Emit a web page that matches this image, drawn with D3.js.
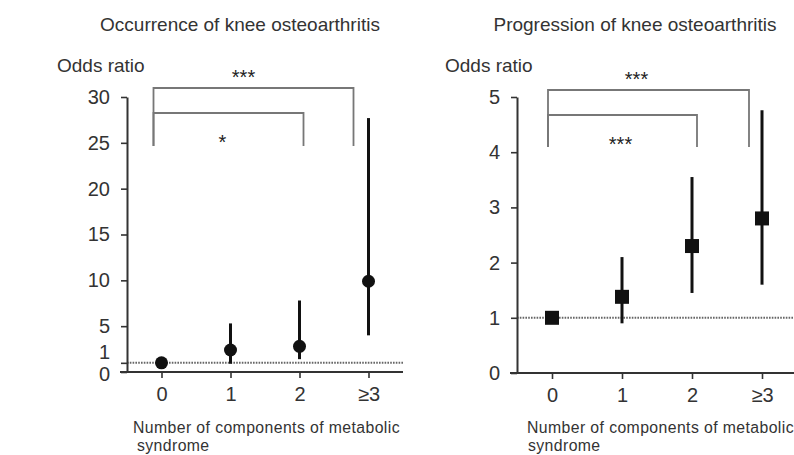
<!DOCTYPE html>
<html>
<head>
<meta charset="utf-8">
<script src="https://cdn.jsdelivr.net/npm/d3@7"></script>
<style>
  html, body { margin: 0; padding: 0; background: #fff; }
  svg { display: block; font-family: "Liberation Sans", Arial, sans-serif; }
</style>
</head>
<body>
<svg id="chart" width="794" height="455"></svg>
<script>
// ---- Data ----
const categories = ["0", "1", "2", "\u22653"];

const occurrenceOR    = [1.0, 2.4, 2.8, 9.9];
const occurrenceLower = [1.0, 0.9, 1.4, 4.0];
const occurrenceUpper = [1.0, 5.3, 7.8, 27.7];
const occurrenceTicks = [0, 1, 5, 10, 15, 20, 25, 30];

const progressionOR    = [1.0, 1.38, 2.3, 2.8];
const progressionLower = [1.0, 0.9, 1.45, 1.6];
const progressionUpper = [1.0, 2.1, 3.55, 4.76];
const progressionTicks = [0, 1, 2, 3, 4, 5];

const occurrenceBrackets  = [{from: 0, to: 3, label: "***"}, {from: 0, to: 2, label: "*"}];
const progressionBrackets = [{from: 0, to: 3, label: "***"}, {from: 0, to: 2, label: "***"}];

const titles = ["Occurrence of knee osteoarthritis", "Progression of knee osteoarthritis"];
const yLabel = "Odds ratio";
const xLabelLines = ["Number of components of metabolic", "syndrome"];

// ---- Drawing ----
const svg = d3.select("#chart");
const textColor = "#333";

function panel(cfg) {
  const g = svg.append("g");
  const x = d3.scalePoint().domain(categories).range([cfg.axisX, cfg.axisX + cfg.span]).padding(0.5);
  const y = d3.scaleLinear().domain([0, cfg.yMax]).range([cfg.y0, cfg.yTop]);

  // title
  g.append("text").attr("x", cfg.titleX).attr("y", 31)
    .attr("text-anchor", "middle").attr("font-size", 19).attr("fill", textColor)
    .text(cfg.title);
  // y label
  g.append("text").attr("x", cfg.yLabelX).attr("y", 72)
    .attr("font-size", 19).attr("fill", textColor).text(yLabel);

  // reference line at OR = 1
  g.append("line")
    .attr("x1", cfg.axisX).attr("x2", cfg.xAxisEnd)
    .attr("y1", y(1)).attr("y2", y(1))
    .attr("stroke", "#666").attr("stroke-width", 2).attr("stroke-dasharray", "1.6,1.2");

  // y axis
  const ya = g.append("g").attr("transform", `translate(${cfg.axisX},0)`)
    .call(d3.axisLeft(y).tickValues(cfg.ticks).tickSize(6).tickSizeOuter(0).tickPadding(11).tickFormat(d3.format("d")));
  ya.select(".domain").attr("stroke", "#333").attr("stroke-width", 2);
  ya.selectAll(".tick line").attr("stroke", "#333").attr("stroke-width", 1.6);
  ya.selectAll(".tick text").attr("font-size", 20).attr("fill", textColor)
    .attr("font-family", "Liberation Sans, Arial, sans-serif");
  if (cfg.oneShift) {
    ya.selectAll(".tick").filter(d => d === 1).select("text").attr("dy", "-0.22em");
    ya.selectAll(".tick").filter(d => d === 0).select("text").attr("dy", "0.42em");
  }

  // x axis
  const xa = g.append("g").attr("transform", `translate(0,${cfg.y0})`)
    .call(d3.axisBottom(x).tickSize(6).tickSizeOuter(0).tickPadding(9));
  xa.select(".domain").attr("d", `M${cfg.axisX - 7},0H${cfg.xAxisEnd}`).attr("stroke", "#333").attr("stroke-width", 2);
  xa.selectAll(".tick line").attr("stroke", "#333").attr("stroke-width", 1.6);
  xa.selectAll(".tick text").attr("font-size", 20).attr("fill", textColor)
    .attr("font-family", "Liberation Sans, Arial, sans-serif");

  // x label
  xLabelLines.forEach((t, i) => {
    g.append("text").attr("x", cfg.xLabelX + (i ? cfg.line2Dx : 0)).attr("y", 433 + i * cfg.lineGap)
      .attr("font-size", 15.8).attr("letter-spacing", 0.4).attr("fill", textColor).text(t);
  });

  // brackets
  const bracketTop = [cfg.bracketY1, cfg.bracketY2];
  const endOffset = {0: cfg.off0, 2: cfg.off2, 3: cfg.off3};
  cfg.brackets.forEach((b, i) => {
    const x1 = x(categories[b.from]) + endOffset[b.from];
    const x2 = x(categories[b.to]) + endOffset[b.to];
    const yt = bracketTop[i];
    g.append("path")
      .attr("d", `M${x1},${cfg.bracketBottom}V${yt}H${x2}V${cfg.bracketBottom}`)
      .attr("fill", "none").attr("stroke", "#777").attr("stroke-width", 1.8);
    const ly = i === 0 ? yt - 4 : yt + 36;
    g.append("text").attr("x", (x1 + x2) / 2 + cfg.labelDx[i]).attr("y", ly)
      .attr("text-anchor", "middle").attr("font-size", 20).attr("fill", "#222")
      .text(b.label);
  });

  // error bars
  categories.forEach((c, i) => {
    if (cfg.upper[i] !== cfg.lower[i]) {
      g.append("line").attr("x1", x(c)).attr("x2", x(c))
        .attr("y1", y(cfg.upper[i])).attr("y2", y(cfg.lower[i]))
        .attr("stroke", "#111").attr("stroke-width", 3);
    }
  });
  // markers
  categories.forEach((c, i) => {
    if (cfg.shape === "circle") {
      g.append("circle").attr("cx", x(c)).attr("cy", y(cfg.or[i])).attr("r", 6.5).attr("fill", "#111");
    } else {
      g.append("rect").attr("x", x(c) - 7).attr("y", y(cfg.or[i]) - 7)
        .attr("width", 14).attr("height", 14).attr("fill", "#111");
    }
  });
}

panel({
  title: titles[0], titleX: 240, yLabelX: 57,
  axisX: 127, span: 276, xAxisEnd: 403, y0: 372, yTop: 97, yMax: 30,
  ticks: occurrenceTicks, oneShift: true,
  or: occurrenceOR, lower: occurrenceLower, upper: occurrenceUpper, shape: "circle",
  brackets: occurrenceBrackets, bracketY1: 88, bracketY2: 113, bracketBottom: 146,
  off0: -8, off2: 4, off3: -15, labelDx: [-10, -6],
  xLabelX: 133, line2Dx: 4, lineGap: 18
});

panel({
  title: titles[1], titleX: 635, yLabelX: 445,
  axisX: 517, span: 280, xAxisEnd: 794, y0: 373, yTop: 97, yMax: 5,
  ticks: progressionTicks, oneShift: false,
  or: progressionOR, lower: progressionLower, upper: progressionUpper, shape: "square",
  brackets: progressionBrackets, bracketY1: 90, bracketY2: 115, bracketBottom: 147,
  off0: -4, off2: 5, off3: -13, labelDx: [-12, -2],
  xLabelX: 527, line2Dx: 1, lineGap: 18
});
</script>
</body>
</html>
